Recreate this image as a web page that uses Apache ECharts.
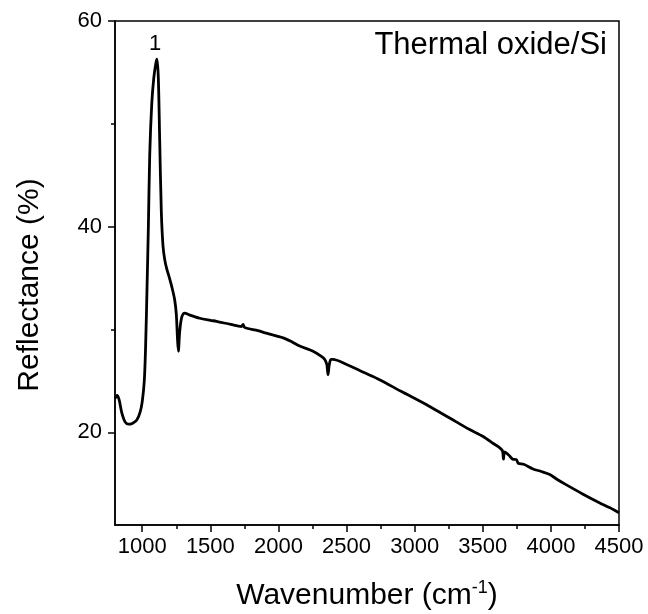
<!DOCTYPE html>
<html>
<head>
<meta charset="utf-8">
<script src="https://cdn.jsdelivr.net/npm/echarts@6/dist/echarts.min.js"></script>
<style>
  html, body { margin: 0; padding: 0; background: #fff; }
  #chart { width: 648px; height: 614px; }
</style>
</head>
<body>
<div id="chart"></div>
<script>
// values
const wavenumber = [800, 815, 830, 850, 875, 900, 930, 960, 985, 1000, 1015, 1025, 1035, 1045, 1055, 1070, 1085, 1100, 1108, 1118, 1128, 1140, 1152, 1165, 1180, 1200, 1220, 1238, 1250, 1258, 1265, 1275, 1290, 1312, 1350, 1422, 1500, 1545, 1650, 1728, 1740, 1752, 1850, 1911, 2034, 2100, 2156, 2254, 2315, 2340, 2355, 2364, 2372, 2385, 2400, 2500, 2600, 2731, 2900, 3100, 3257, 3400, 3502, 3580, 3625, 3645, 3652, 3660, 3690, 3720, 3747, 3760, 3800, 3869, 3930, 3992, 4050, 4114, 4236, 4359, 4430, 4500];
const reflectance = [23.3, 23.6, 23.2, 21.9, 21.0, 20.8, 20.9, 21.2, 22.0, 23.0, 25.0, 28.5, 34.0, 40.0, 47.0, 52.0, 54.5, 55.9, 56.3, 54.5, 48.5, 41.5, 38.2, 36.8, 35.9, 35.0, 34.0, 32.9, 31.5, 29.3, 27.9, 29.8, 31.2, 31.6, 31.4, 31.1, 30.9, 30.8, 30.5, 30.3, 30.5, 30.2, 29.9, 29.65, 29.2, 28.8, 28.4, 27.9, 27.4, 27.1, 26.6, 25.6, 26.5, 27.1, 27.1, 26.6, 26.0, 25.2, 24.0, 22.6, 21.4, 20.3, 19.6, 18.9, 18.5, 18.2, 17.4, 18.1, 17.8, 17.4, 17.35, 17.0, 16.9, 16.45, 16.2, 15.9, 15.4, 14.9, 14.0, 13.15, 12.7, 12.2];

const xMajorTicks = [1000, 1500, 2000, 2500, 3000, 3500, 4000, 4500];
const xMinorTicks = [1250, 1750, 2250, 2750, 3250, 3750, 4250];
const yMajorTicks = [20, 40, 60];
const yMinorTicks = [30, 50];

const peakLabel = ['1'];
const peakPos = [[1095, 57.8]];

const chart = echarts.init(document.getElementById('chart'));

const font = 'Liberation Sans, Arial, sans-serif';
const grid = { left: 115, right: 29, top: 21, bottom: 89, outerBoundsMode: 'none' };

chart.setOption({
    animation: false,
    title: {
        text: 'Thermal oxide/Si',
        right: 36,
        top: 25,
        textStyle: { fontFamily: font, fontSize: 31, fontWeight: 'normal', color: '#000' }
    },
    grid: Object.assign({ show: true, borderColor: '#000', borderWidth: 1.5 }, grid),
    xAxis: [
        {
            type: 'value',
            position: 'bottom',
            min: 800,
            max: 4500,
            name: '{a|Wavenumber (cm}{s|-1}{a|)}',
            nameLocation: 'middle',
            nameGap: 54,
            nameTextStyle: {
                rich: {
                    a: { fontFamily: font, fontSize: 30, color: '#000' },
                    s: { fontFamily: font, fontSize: 18, color: '#000', verticalAlign: 'top', padding: [0, 0, 16, 0] }
                }
            },
            splitLine: { show: false },
            axisLine: { lineStyle: { color: '#000', width: 1.5 } },
            axisTick: { customValues: xMajorTicks, length: 7, lineStyle: { color: '#000', width: 1.5 } },
            axisLabel: { customValues: xMajorTicks, margin: 11, fontFamily: font, fontSize: 22, color: '#000', formatter: v => String(v) }
        },
        {
            type: 'value',
            position: 'bottom',
            min: 800,
            max: 4500,
            splitLine: { show: false },
            axisLine: { show: false },
            axisTick: { customValues: xMinorTicks, length: 4, lineStyle: { color: '#000', width: 1.5 } },
            axisLabel: { show: false }
        }
    ],
    yAxis: [
        {
            type: 'value',
            position: 'left',
            min: 11,
            max: 60,
            name: 'Reflectance (%)',
            nameLocation: 'middle',
            nameGap: 70,
            nameTextStyle: { fontFamily: font, fontSize: 30, color: '#000', padding: [0, 24, 0, 0] },
            splitLine: { show: false },
            axisLine: { lineStyle: { color: '#000', width: 1.5 } },
            axisTick: { customValues: yMajorTicks, length: 7, lineStyle: { color: '#000', width: 1.5 } },
            axisLabel: { customValues: yMajorTicks, margin: 13, fontFamily: font, fontSize: 22, color: '#000', formatter: v => String(v) }
        },
        {
            type: 'value',
            position: 'left',
            min: 11,
            max: 60,
            splitLine: { show: false },
            axisLine: { show: false },
            axisTick: { customValues: yMinorTicks, length: 4, lineStyle: { color: '#000', width: 1.5 } },
            axisLabel: { show: false }
        }
    ],
    series: [
        {
            type: 'line',
            xAxisIndex: 0,
            yAxisIndex: 0,
            data: wavenumber.map((w, i) => [w, reflectance[i]]),
            showSymbol: false,
            smooth: 0.3,
            lineStyle: { color: '#000', width: 2.8 },
            markPoint: {
                symbolSize: 0,
                label: {
                    show: true,
                    position: 'inside',
                    fontFamily: font,
                    fontSize: 22,
                    color: '#000',
                    formatter: p => p.name
                },
                data: peakLabel.map((t, i) => ({ name: t, coord: peakPos[i] }))
            }
        }
    ]
});
</script>
</body>
</html>
